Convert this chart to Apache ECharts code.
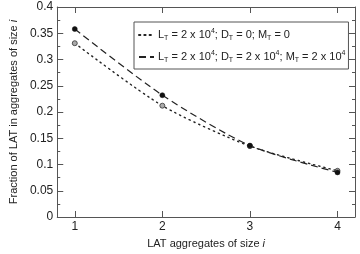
<!DOCTYPE html>
<html>
<head>
<meta charset="utf-8">
<script src="https://cdn.jsdelivr.net/npm/echarts@6/dist/echarts.min.js"></script>
<style>
  html, body { margin: 0; padding: 0; background: #fff; }
  #chart { width: 360px; height: 254px; }
</style>
</head>
<body>
<div id="chart"></div>
<script>
// aggregate sizes on the x axis
const sizes = [1, 2, 3, 4]
// fraction of LAT, D_T = 0, M_T = 0 (dotted)
const fracNoDM = [0.331, 0.212, 0.135, 0.088]
// fraction of LAT, D_T = M_T = 2 x 10^4 (dashed)
const fracDM = [0.358, 0.232, 0.136, 0.085]
const yTicks = [0, 0.05, 0.1, 0.15, 0.2, 0.25, 0.3, 0.35, 0.4]
const legendNames = ["noDM", "DM"]
const legendTexts = {
    noDM: "{n|L}{sub|T}{n| = 2 x 10}{sup|4}{n|; D}{sub|T}{n| = 0; M}{sub|T}{n| = 0}",
    DM: "{n|L}{sub|T}{n| = 2 x 10}{sup|4}{n|; D}{sub|T}{n| = 2 x 10}{sup|4}{n|; M}{sub|T}{n| = 2 x 10}{sup|4}"
}

const FONT = '"Liberation Sans", Arial, sans-serif'
const AXIS = "#555"
const INK = "#222"

const chart = echarts.init(document.getElementById("chart"))

function pairs(ys) {
    return sizes.map((x, i) => [x, ys[i]])
}

const baseX = {
    type: "value",
    min: 0.8,
    max: 4.2,
    axisLine: { show: true, onZero: false, lineStyle: { color: AXIS, width: 1 } },
    axisTick: { show: true, inside: true, length: 6, customValues: sizes, lineStyle: { color: AXIS } },
    splitLine: { show: false }
}
const baseY = {
    type: "value",
    min: 0,
    max: 0.4,
    interval: 0.05,
    axisLine: { show: true, lineStyle: { color: AXIS, width: 1 } },
    axisTick: { show: true, inside: true, length: 6, lineStyle: { color: AXIS } },
    minorTick: { show: true, splitNumber: 2, length: 3, lineStyle: { color: AXIS } },
    splitLine: { show: false }
}

const option = {
    animation: false,
    grid: { left: 41, right: 5, top: 7, bottom: 27 },
    xAxis: [
        Object.assign({}, baseX, {
            position: "bottom",
            name: "LAT aggregates of size {i|i}",
            nameLocation: "middle",
            nameGap: 21,
            nameTextStyle: { color: INK, fontSize: 11, fontFamily: FONT, rich: { i: { fontStyle: "italic", fontSize: 11, fontFamily: FONT } } },
            axisLabel: { customValues: sizes, color: INK, fontSize: 12, fontFamily: FONT, margin: 4 }
        }),
        Object.assign({}, baseX, { position: "top", axisLabel: { show: false } })
    ],
    yAxis: [
        Object.assign({}, baseY, {
            position: "left",
            name: "Fraction of LAT in aggregates of size {i|i}",
            nameLocation: "middle",
            nameGap: 31,
            nameTextStyle: { color: INK, fontSize: 11, fontFamily: FONT, rich: { i: { fontStyle: "italic", fontSize: 11, fontFamily: FONT } } },
            axisLabel: {
                color: INK, fontSize: 12, fontFamily: FONT, margin: 4,
                formatter: v => yTicks.includes(+v.toFixed(2)) ? String(+v.toFixed(2)) : ""
            }
        }),
        Object.assign({}, baseY, { position: "right", axisLabel: { show: false } })
    ],
    legend: {
        show: true,
        data: legendNames,
        orient: "vertical",
        left: 134,
        top: 22,
        padding: [6, 3, 5, 4],
        itemGap: 8,
        itemWidth: 15,
        itemHeight: 10,
        borderColor: AXIS,
        borderWidth: 1,
        borderRadius: 0,
        itemStyle: { opacity: 0 },
        formatter: name => legendTexts[name],
        textStyle: {
            color: INK,
            fontFamily: FONT,
            padding: [0, 0, 0, -1],
            rich: {
                n: { fontSize: 11, fontFamily: FONT, color: INK, lineHeight: 14, verticalAlign: "middle" },
                sub: { fontSize: 7, fontFamily: FONT, color: INK, lineHeight: 14, verticalAlign: "bottom" },
                sup: { fontSize: 7, fontFamily: FONT, color: INK, lineHeight: 14, verticalAlign: "top" }
            }
        }
    },
    series: [
        {
            name: "noDM",
            type: "line",
            data: pairs(fracNoDM),
            smooth: 0.25,
            symbol: "circle",
            symbolSize: 5,
            itemStyle: { color: "#aaa", borderColor: "#333", borderWidth: 0.8 },
            lineStyle: { color: INK, width: 1.4, type: [1.3, 4], cap: "round" }
        },
        {
            name: "DM",
            type: "line",
            data: pairs(fracDM),
            smooth: 0.25,
            symbol: "circle",
            symbolSize: 5,
            itemStyle: { color: "#111", borderColor: "#111", borderWidth: 0.5 },
            lineStyle: { color: INK, width: 1.2, type: [7, 4] }
        }
    ]
}

chart.setOption(option)
</script>
</body>
</html>
